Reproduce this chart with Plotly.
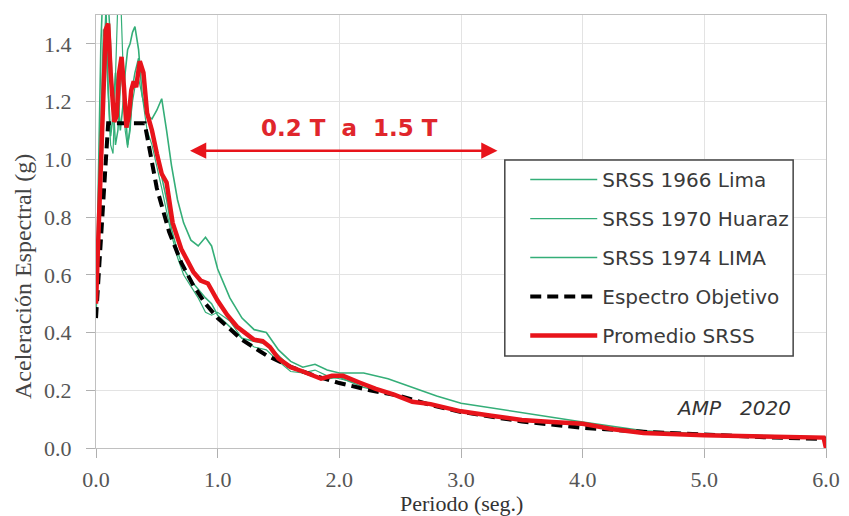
import plotly.graph_objects as go

# Periods (s) shared by the three recorded spectra
periodo_reg = [0.0, 0.02, 0.04, 0.06, 0.08, 0.1, 0.12, 0.14, 0.16, 0.18,
               0.2, 0.22, 0.24, 0.26, 0.28, 0.3, 0.32, 0.35, 0.38, 0.42,
               0.46, 0.5, 0.54, 0.58, 0.62, 0.67, 0.72, 0.78, 0.84, 0.9,
               0.95, 1.0, 1.1, 1.2, 1.3, 1.4, 1.5, 1.6, 1.7, 1.8,
               1.9, 2.0, 2.2, 2.4, 2.6, 2.8, 3.0, 3.3, 3.6, 4.0,
               4.5, 5.0, 5.5, 6.0]

srss_1966 = [0.48, 0.95, 1.40, 1.62, 1.55, 1.25, 1.08, 1.15, 1.30, 1.22,
             1.10, 1.18, 1.30, 1.38, 1.40, 1.44, 1.46, 1.38, 1.22, 1.15,
             1.14, 1.17, 1.21, 1.10, 0.98, 0.86, 0.78, 0.72, 0.70, 0.73,
             0.70, 0.62, 0.52, 0.45, 0.41, 0.40, 0.34, 0.30, 0.28, 0.29,
             0.27, 0.26, 0.26, 0.24, 0.21, 0.18, 0.155, 0.135, 0.115, 0.09,
             0.06, 0.048, 0.043, 0.038]

srss_1970 = [0.48, 0.80, 1.20, 1.45, 1.40, 1.20, 1.05, 1.02, 1.25, 1.55,
             1.60, 1.35, 1.10, 1.04, 1.12, 1.20, 1.25, 1.28, 1.22, 1.10,
             1.05, 0.98, 0.90, 0.82, 0.74, 0.66, 0.60, 0.56, 0.52, 0.47,
             0.46, 0.47, 0.44, 0.38, 0.35, 0.34, 0.30, 0.265, 0.26, 0.27,
             0.25, 0.24, 0.22, 0.19, 0.16, 0.145, 0.13, 0.11, 0.095, 0.08,
             0.055, 0.045, 0.04, 0.035]

srss_1974 = [0.45, 0.70, 1.00, 1.30, 1.50, 1.55, 1.40, 1.20, 1.05, 1.10,
             1.25, 1.32, 1.20, 1.05, 1.10, 1.25, 1.30, 1.35, 1.30, 1.18,
             1.10, 1.02, 0.95, 0.86, 0.76, 0.68, 0.62, 0.58, 0.55, 0.52,
             0.50, 0.46, 0.42, 0.38, 0.37, 0.36, 0.32, 0.28, 0.26, 0.25,
             0.24, 0.245, 0.21, 0.19, 0.165, 0.145, 0.125, 0.105, 0.09, 0.08,
             0.055, 0.045, 0.04, 0.035]

# Target (design) spectrum
periodo_obj = [0.0, 0.1, 0.4, 0.5, 0.6, 0.7, 0.8, 0.9, 1.0, 1.2, 1.4, 1.6,
               1.8, 2.0, 2.25, 2.5, 2.75, 3.0, 3.5, 4.0, 4.5, 5.0, 5.5, 6.0]
sa_obj = [0.45, 1.125, 1.125, 0.90, 0.75, 0.643, 0.563, 0.50, 0.45, 0.375, 0.321, 0.281,
          0.25, 0.225, 0.20, 0.18, 0.149, 0.125, 0.092, 0.070, 0.056, 0.045, 0.037, 0.031]

# Mean SRSS spectrum
periodo_prom = [0.0, 0.02, 0.05, 0.08, 0.1, 0.12, 0.15, 0.17, 0.19, 0.21,
                0.23, 0.25, 0.27, 0.29, 0.31, 0.33, 0.36, 0.39, 0.42, 0.46,
                0.5, 0.54, 0.58, 0.63, 0.7, 0.75, 0.8, 0.86, 0.92, 1.0,
                1.08, 1.16, 1.25, 1.3, 1.37, 1.43, 1.5, 1.6, 1.7, 1.78,
                1.85, 1.94, 2.03, 2.17, 2.3, 2.45, 2.6, 2.75, 2.9, 3.0,
                3.25, 3.5, 3.75, 4.0, 4.25, 4.5, 5.0, 5.5, 5.98, 6.0]
sa_prom = [0.50, 0.75, 1.15, 1.45, 1.47, 1.30, 1.13, 1.15, 1.30, 1.355,
           1.25, 1.11, 1.15, 1.24, 1.27, 1.25, 1.34, 1.30, 1.16, 1.10,
           1.02, 0.95, 0.92, 0.78, 0.69, 0.65, 0.61, 0.58, 0.57, 0.51,
           0.46, 0.42, 0.39, 0.375, 0.37, 0.35, 0.31, 0.28, 0.265, 0.25,
           0.24, 0.25, 0.25, 0.226, 0.205, 0.185, 0.16, 0.152, 0.138, 0.127,
           0.112, 0.097, 0.09, 0.084, 0.065, 0.052, 0.044, 0.04, 0.036, 0.0]

verde = "#34AE78"
rojo = "#E8141B"

fig = go.Figure()

registros = [("SRSS 1966 Lima", srss_1966, 1.6),
             ("SRSS 1970 Huaraz", srss_1970, 1.2),
             ("SRSS 1974 LIMA", srss_1974, 1.5)]
for nombre, valores, ancho in registros:
    fig.add_trace(go.Scatter(x=periodo_reg, y=valores, mode="lines", name=nombre,
                             legendgroup=nombre,
                             line=dict(color=verde, width=ancho)))

fig.add_trace(go.Scatter(x=periodo_obj, y=sa_obj, mode="lines", name="Espectro Objetivo",
                         legendgroup="obj",
                         line=dict(color="black", width=4, dash="11px,6px")))

fig.add_trace(go.Scatter(x=periodo_prom, y=sa_prom, mode="lines", name="Promedio SRSS",
                         legendgroup="prom",
                         line=dict(color=rojo, width=4.5)))

# Range arrow 0.2T - 1.5T
fig.add_annotation(x=3.3, y=1.03, ax=0.76, ay=1.03, xref="x", yref="y", axref="x", ayref="y",
                   text="", showarrow=True, arrowhead=2, arrowside="end+start",
                   arrowwidth=2.5, arrowsize=1.3, arrowcolor=rojo)
fig.add_annotation(x=2.08, y=1.11, xref="x", yref="y", text="<b>0.2 T  a  1.5 T</b>",
                   showarrow=False, font=dict(family="DejaVu Sans", size=23, color="#E0262C"))
fig.add_annotation(x=5.24, y=0.138, xref="x", yref="y", text="AMP   2020",
                   showarrow=False, font=dict(family="DejaVu Sans", size=20, color="#333333", style="italic"))
# axis titles as annotations so they sit where the original puts them
fig.add_annotation(x=-0.1, y=0.395, xref="paper", yref="paper", text="Aceleración Espectral (g)",
                   textangle=-90, showarrow=False, xanchor="center", yanchor="middle",
                   font=dict(family="Liberation Serif", size=24, color="#444444"))
fig.add_annotation(x=0.5, y=-0.128, xref="paper", yref="paper", text="Periodo (seg.)",
                   showarrow=False, xanchor="center", yanchor="middle",
                   font=dict(family="Liberation Serif", size=22, color="#333333"))

# legend frame (the legend itself is drawn without a border inside it)
fig.add_shape(type="rect", xref="paper", yref="paper", x0=0.560, x1=0.955, y0=0.2125, y1=0.665,
              line=dict(color="#444444", width=1.5), fillcolor="white", layer="above")

eje = dict(showgrid=True, gridcolor="#E3E3E3", gridwidth=1, automargin=False,
           showline=True, linecolor="#C0C0C0", linewidth=1, mirror=True,
           ticks="outside", ticklen=9, tickcolor="#B0B0B0",
           tickfont=dict(family="Liberation Serif", size=22, color="#555555"),
           zeroline=False)

# page body adds 8 px on the left/top, so the figure is 8 px smaller
fig.update_layout(
    width=841, height=508,
    margin=dict(l=88, r=23, t=7, b=68),
    paper_bgcolor="white", plot_bgcolor="white",
    showlegend=True,
    legend=dict(x=0.588, y=0.665, xanchor="left", yanchor="top",
                bgcolor="rgba(0,0,0,0)", borderwidth=0,
                font=dict(family="DejaVu Sans", size=20, color="#3A3A3A"),
                tracegroupgap=10, itemwidth=67),
    xaxis=dict(eje, range=[0, 6], dtick=1, tickformat=".1f", ticklabelstandoff=3),
    yaxis=dict(eje, range=[0, 1.5], dtick=0.2, tickformat=".1f", ticklabelstandoff=10),
)

fig.write_html("out.html")
